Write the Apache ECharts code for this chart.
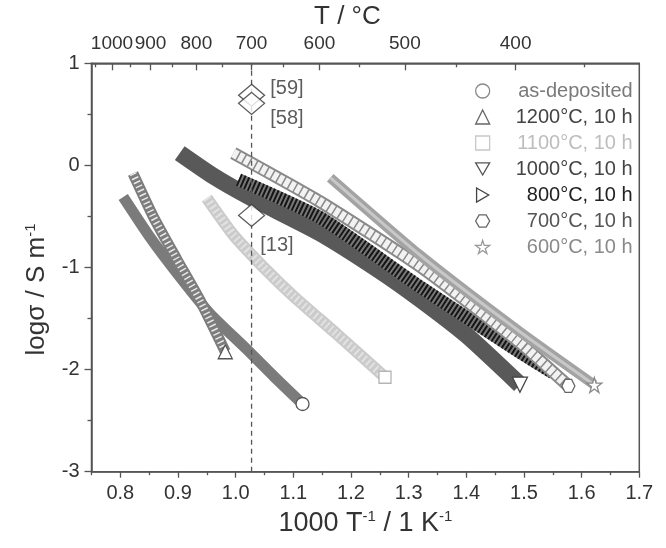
<!DOCTYPE html>
<html>
<head>
<meta charset="utf-8">
<script src="https://cdn.jsdelivr.net/npm/echarts@6/dist/echarts.min.js"></script>
<style>
  html, body { margin: 0; padding: 0; background: #fff; }
  #chart { width: 666px; height: 548px; }
</style>
</head>
<body>
<div id="chart"></div>
<script>
// axis ticks
const xMajor = [0.8, 0.9, 1.0, 1.1, 1.2, 1.3, 1.4, 1.5, 1.6, 1.7];
const xMinor = [0.75, 0.85, 0.95, 1.05, 1.15, 1.25, 1.35, 1.45, 1.55, 1.65];
const topMajorC = [1000, 900, 800, 700, 600, 500, 400];
const topMinorC = [1050, 950, 850, 750, 650, 550, 450, 350];

// measured bands, [1000/T, log sigma]
const asDeposited = [[0.805, -0.31], [0.851, -0.70], [0.903, -1.09], [0.955, -1.45], [1.019, -1.80], [1.065, -2.06], [1.116, -2.337]];
const t1200 = [[0.822, -0.08], [0.857, -0.50], [0.898, -0.92], [0.938, -1.32], [0.982, -1.825]];
const t1100 = [[0.950, -0.32], [0.996, -0.68], [1.054, -1.03], [1.10, -1.28], [1.175, -1.65], [1.259, -2.075]];
const t1000 = [[0.903, 0.12], [0.96, -0.10], [1.025, -0.31], [1.146, -0.66], [1.25, -1.03], [1.32, -1.31], [1.40, -1.66], [1.493, -2.148]];
const t800 = [[1.005, -0.14], [1.146, -0.51], [1.32, -1.19], [1.493, -1.83], [1.55, -2.03]];
const t700 = [[0.996, 0.12], [1.146, -0.355], [1.32, -0.99], [1.493, -1.74], [1.577, -2.16]];
const t600 = [[1.164, -0.12], [1.32, -0.88], [1.493, -1.63], [1.622, -2.15]];

// literature points at 700 °C
const litTempC = [700, 700, 700];
const litLogS = [0.687, 0.608, -0.49];
const litLabels = ['[59]', '[58]', '[13]'];
const refTempC = 700;

const FONT = '"Liberation Sans", Arial, sans-serif';
const invT = c => 1000 / (c + 273.15);

const ICON_TRI_DOWN = 'path://M0,0L10,0L5,8.66Z';
const ICON_TRI_RIGHT = 'path://M0,0L8.66,5L0,10Z';
const ICON_HEX = 'path://M2.5,0L7.5,0L10,4.33L7.5,8.66L2.5,8.66L0,4.33Z';
const ICON_STAR = 'path://M50,0L61,35L98,35L68,57L79,91L50,70L21,91L32,57L2,35L39,35Z';

function band(name, pts, base, width, inner, end) {
  const list = [];
  const mk = (withEnd) => pts.map((p, i) => {
    if (withEnd && end && i === pts.length - 1) {
      return {
        value: p, symbol: end.symbol, symbolSize: end.size,
        itemStyle: { color: '#fff', borderColor: end.border, borderWidth: 1.3 }
      };
    }
    return p;
  });
  const common = {
    name, type: 'line', smooth: 0.2,
    symbol: 'circle', symbolSize: 0, showSymbol: true, showAllSymbol: true,
    itemStyle: { color: base }, emphasis: { disabled: true }
  };
  list.push(Object.assign({}, common, {
    data: mk(!inner),
    lineStyle: { color: base, width, cap: 'butt' }
  }));
  if (inner) {
    list.push(Object.assign({}, common, {
      data: mk(true),
      lineStyle: { color: inner.color, width: inner.width, type: inner.type || 'solid', cap: 'butt' }
    }));
  }
  return list;
}

const legendItems = [
  { name: 'as-deposited', icon: 'circle', border: '#888', text: '#7a7a7a' },
  { name: '1200°C, 10 h', icon: 'triangle', border: '#666', text: '#444' },
  { name: '1100°C, 10 h', icon: 'rect', border: '#c8c8c8', text: '#bdbdbd' },
  { name: '1000°C, 10 h', icon: ICON_TRI_DOWN, border: '#555', text: '#444' },
  { name: '800°C, 10 h', icon: ICON_TRI_RIGHT, border: '#444', text: '#222' },
  { name: '700°C, 10 h', icon: ICON_HEX, border: '#666', text: '#555' },
  { name: '600°C, 10 h', icon: ICON_STAR, border: '#999', text: '#8a8a8a' }
];

const series = [].concat(
  band('as-deposited', asDeposited, '#7b7b7b', 11, null, { symbol: 'circle', size: 13, border: '#555' }),
  band('1200°C, 10 h', t1200, '#7d7d7d', 11, { color: '#e8e8e8', width: 7, type: [1.5, 3] }, { symbol: 'triangle', size: 14, border: '#555' }),
  band('1100°C, 10 h', t1100, '#cbcbcb', 12, { color: '#e2e2e2', width: 8, type: [2, 3] }, { symbol: 'rect', size: 12, border: '#b5b5b5' }),
  band('1000°C, 10 h', t1000, '#595959', 17, null, { symbol: ICON_TRI_DOWN, size: 15, border: '#444' }),
  band('800°C, 10 h', t800, '#777', 13, { color: '#151515', width: 13, type: [2, 2] }, null),
  band('700°C, 10 h', t700, '#8a8a8a', 13, { color: '#f2f2f2', width: 9, type: [5, 1.5] }, { symbol: ICON_HEX, size: 13, border: '#666' }),
  band('600°C, 10 h', t600, '#a3a3a3', 10, { color: '#c8c8c8', width: 3 }, { symbol: ICON_STAR, size: 15, border: '#888' })
);

// dashed reference line at 700 °C
series.push({
  name: 'ref', type: 'line', data: [[invT(refTempC), -3], [invT(refTempC), 1]],
  symbol: 'none', lineStyle: { color: '#555', width: 1.3, type: [5, 4] },
  emphasis: { disabled: true }, silent: true
});

const litOffsets = [[0, -7], [0, 15], [-10, 30]];
series.push({
  name: 'lit', type: 'scatter', symbol: 'diamond', symbolSize: [26, 22],
  itemStyle: { color: '#fff', borderColor: '#333', borderWidth: 1.3 },
  label: { show: true, position: 'right', fontSize: 20, color: '#333', fontFamily: FONT },
  data: litTempC.map((c, i) => ({
    value: [invT(c), litLogS[i]],
    label: { formatter: litLabels[i], offset: litOffsets[i] }
  })),
  emphasis: { disabled: true }, z: 5
});

const axisLine = { show: true, onZero: false, lineStyle: { color: '#555', width: 1.5 } };
const noLine = { show: false, onZero: false };
const tickStyle = { color: '#555', width: 1.3 };

const chart = echarts.init(document.getElementById('chart'), null, { renderer: 'canvas' });
chart.setOption({
  animation: false,
  backgroundColor: '#fff',
  textStyle: { fontFamily: FONT },
  grid: {
    left: 91.5, right: 26.7, top: 63.3, bottom: 76.3,
    show: true, borderColor: '#555', borderWidth: 1.5,
    outerBoundsMode: 'none'
  },
  legend: {
    orient: 'vertical', left: 470, top: 76,
    itemWidth: 14, itemHeight: 14, itemGap: 6,
    selectedMode: false,
    formatter: n => '{r|' + n + '}',
    textStyle: {
      fontFamily: FONT,
      rich: { r: { fontSize: 20, lineHeight: 20, width: 138, align: 'right', fontFamily: FONT } }
    },
    data: legendItems.map(d => ({
      name: d.name, icon: d.icon,
      itemStyle: { color: '#fff', borderColor: d.border, borderWidth: 1.3 },
      textStyle: { color: d.text }
    }))
  },
  xAxis: [
    {
      type: 'value', position: 'bottom', min: 0.75, max: 1.7,
      axisLine, splitLine: { show: false },
      axisTick: { show: true, length: 6, lineStyle: tickStyle, customValues: xMajor },
      axisLabel: { customValues: xMajor, fontSize: 20, color: '#333', margin: 12, formatter: v => v.toFixed(1) },
      name: '{m|1000 T}{s|-1}{m| / 1 K}{s|-1}', nameLocation: 'middle', nameGap: 38,
      nameTextStyle: {
        color: '#333',
        rich: { m: { fontSize: 27, color: '#333' }, s: { fontSize: 15, verticalAlign: 'top', color: '#333' } }
      }
    },
    {
      type: 'value', position: 'bottom', min: 0.75, max: 1.7,
      axisLine: noLine, splitLine: { show: false }, axisLabel: { show: false },
      axisTick: { show: true, length: 3.5, lineStyle: tickStyle, customValues: xMinor }
    },
    {
      type: 'value', position: 'top', min: 0.75, max: 1.7,
      axisLine, splitLine: { show: false },
      axisTick: { show: true, inside: true, length: 7, lineStyle: tickStyle, customValues: topMajorC.map(invT) },
      axisLabel: {
        customValues: topMajorC.map(invT), fontSize: 19, color: '#333', margin: 10,
        formatter: v => String(Math.round(1000 / v - 273.15))
      },
      name: 'T / °C', nameLocation: 'middle', nameGap: 31,
      nameTextStyle: { fontSize: 26, color: '#333', padding: [0, 36, 0, 0] }
    },
    {
      type: 'value', position: 'top', min: 0.75, max: 1.7,
      axisLine: noLine, splitLine: { show: false }, axisLabel: { show: false },
      axisTick: { show: true, inside: true, length: 4, lineStyle: tickStyle, customValues: topMinorC.map(invT) }
    }
  ],
  yAxis: {
    type: 'value', min: -3, max: 1, interval: 1,
    axisLine, splitLine: { show: false },
    axisTick: { show: true, length: 7, lineStyle: tickStyle },
    minorTick: { show: true, splitNumber: 2, length: 4, lineStyle: tickStyle },
    axisLabel: { fontSize: 20, color: '#333', margin: 12 },
    name: '{m|logσ / S m}{s|-1}', nameLocation: 'middle', nameGap: 42,
    nameTextStyle: {
      color: '#333', padding: [0, 44, 0, 0],
      rich: { m: { fontSize: 26, color: '#333' }, s: { fontSize: 15, verticalAlign: 'top', color: '#333' } }
    }
  },
  series
});
</script>
</body>
</html>
